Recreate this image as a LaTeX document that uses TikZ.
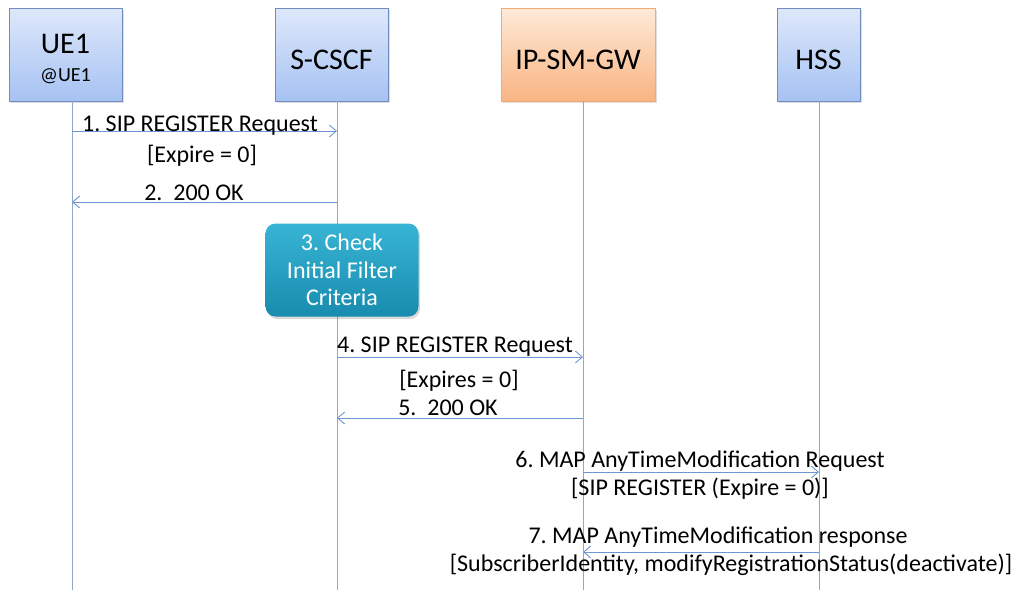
\documentclass[tikz,border=0pt]{standalone}
\usepackage{fontspec}
\setmainfont{Carlito}
\usetikzlibrary{arrows.meta,shadows}
\frenchspacing

\definecolor{bluetop}{RGB}{222,232,250}
\definecolor{bluebot}{RGB}{166,194,243}
\definecolor{blueline}{RGB}{112,140,190}
\definecolor{orangetop}{RGB}{254,234,216}
\definecolor{orangebot}{RGB}{249,180,130}
\definecolor{orangeline}{RGB}{240,170,115}
\definecolor{tealtop}{RGB}{56,180,212}
\definecolor{tealbot}{RGB}{24,140,174}
\definecolor{lifeline}{RGB}{146,168,200}
\definecolor{msgline}{RGB}{110,150,210}

\tikzset{
  entity/.style={draw=#1line, line width=0.8pt, top color=#1top, bottom color=#1bot,
    minimum height=93pt, inner sep=0pt, align=center, text height=30pt, text depth=0pt,
    drop shadow={opacity=0.25, shadow xshift=1.5pt, shadow yshift=-2pt},
    font=\fontsize{30}{32}\selectfont},
  life/.style={draw=lifeline, line width=0.9pt},
  msg/.style={draw=msgline, line width=0.9pt, -{Straight Barb[length=7pt,width=12pt]}},
  lbl/.style={anchor=base, inner sep=0pt, font=\fontsize{24}{27}\selectfont},
  check/.style={rounded corners=10pt, top color=tealtop, bottom color=tealbot,
    minimum width=153pt, minimum height=93pt, align=center, text=white,
    drop shadow={opacity=0.3, shadow xshift=1.5pt, shadow yshift=-2.5pt},
    font=\fontsize{24}{27.5}\selectfont}
}

\begin{document}
\begin{tikzpicture}[x=1pt,y=-1pt] %sequence
  \useasboundingbox (0,0) rectangle (1014,590);

  % entities
  \node[entity=blue, minimum width=113pt, text height=54pt] (ue) at (65.5,54.5)
    {UE1\\[-4pt]{\fontsize{20}{22}\selectfont @UE1}};
  \node[entity=blue, minimum width=113pt] (cscf) at (331.5,54.5) {S-CSCF};
  \node[entity=orange, minimum width=154pt] (gw) at (578,54.5) {IP-SM-GW};
  \node[entity=blue, minimum width=83pt] (hss) at (818.5,54.5) {HSS};

  % lifelines
  \coordinate (ueT) at (72,101);    \coordinate (ueB) at (72,590);
  \coordinate (cscfT) at (337,101); \coordinate (cscfB) at (337,590);
  \coordinate (gwT) at (583,101);   \coordinate (gwB) at (583,590);
  \coordinate (hssT) at (819,101);  \coordinate (hssB) at (819,590);
  \draw[life] (ueT) -- (ueB);
  \draw[life] (cscfT) -- (cscfB);
  \draw[life] (gwT) -- (gwB);
  \draw[life] (hssT) -- (hssB);

  % message rows
  \coordinate (m1) at (0,131);
  \coordinate (m2) at (0,202);
  \coordinate (m4) at (0,357);
  \coordinate (m5) at (0,418);
  \coordinate (m6) at (0,472);
  \coordinate (m7) at (0,552);

  \node[check] (ifc) at (342,270) {3. Check\\Initial Filter\\Criteria};

  \draw[msg] (ueT |- m1) -- (cscfT |- m1);
  \draw[msg] (cscfT |- m2) -- (ueT |- m2);
  \draw[msg] (cscfT |- m4) -- (gwT |- m4);
  \draw[msg] (gwT |- m5) -- (cscfT |- m5);
  \draw[msg] (gwT |- m6) -- (hssT |- m6);
  \draw[msg] (hssT |- m7) -- (gwT |- m7);

  % labels
  \node[lbl] (l1) at (200,131) {1. SIP REGISTER Request};
  \node[lbl] (l1b) at (202,162) {[Expire = 0]};
  \node[lbl] (l2) at (194,200) {2.~~200 OK};
  \node[lbl] (l4) at (455,352) {4. SIP REGISTER Request};
  \node[lbl] (l4b) at (459,387) {[Expires = 0]};
  \node[lbl] (l5) at (448,415) {5.~~200 OK};
  \node[lbl] (l6) at (700,467) {6. MAP AnyTimeModification Request};
  \node[lbl] (l6b) at (700,495) {[SIP REGISTER (Expire = 0)]};
  \node[lbl] (l7) at (718,543) {7. MAP AnyTimeModification response};
  \node[lbl] (l7b) at (731,571) {[SubscriberIdentity, modifyRegistrationStatus(deactivate)]};
\end{tikzpicture}
\end{document}
